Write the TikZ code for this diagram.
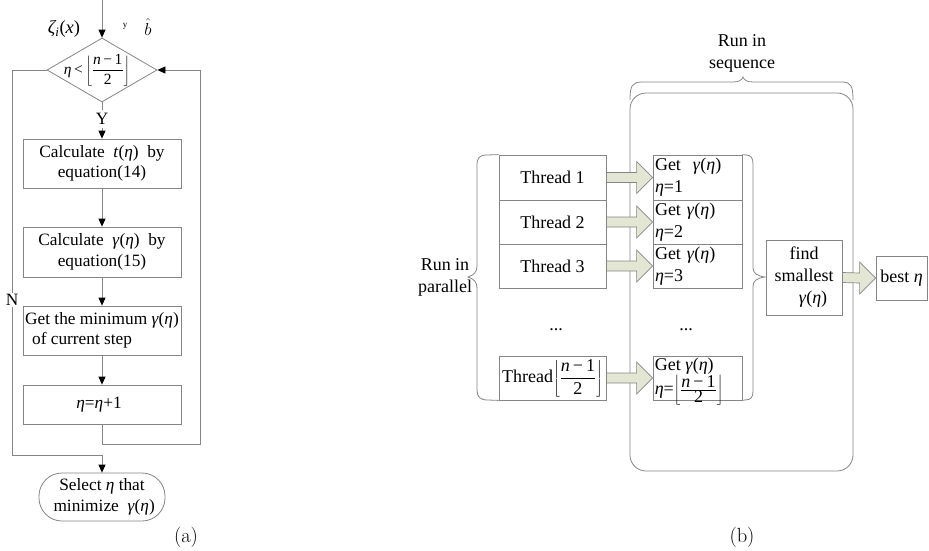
\documentclass[tikz,border=0pt]{standalone}
\usepackage{fontspec}
\newfontfamily\tnr{Liberation Serif}
\usetikzlibrary{arrows.meta,shapes.geometric,calc}
\definecolor{ln}{HTML}{858585}
\definecolor{af}{HTML}{E3E6D3}
\newcommand\ETA{\textit{η}}
\newcommand\GAM{\textit{γ}}
\newcommand\flr{$\displaystyle\left\lfloor\frac{\mbox{\textit{n}\,−\,1}}{\mbox{2}}\right\rfloor$}
\newcommand\flrs{$\left\lfloor\frac{\mbox{\textit{n}\,−\,1}}{\mbox{2}}\right\rfloor$}
% wide block arrow between two horizontally aligned nodes
\newcommand\blk[2]{\draw[bar] ($(#1.east)+(0,-5)$) -- ($(#2.west)+(-16,-5)$) -- ($(#2.west)+(-16,-16)$) -- (#2.west) -- ($(#2.west)+(-16,16)$) -- ($(#2.west)+(-16,5)$) -- ($(#1.east)+(0,5)$) -- cycle;}
\begin{document}
\begin{tikzpicture}[x=1pt,y=-1pt,
  every node/.style={font=\tnr\fontsize{17.3}{20.5}\selectfont, text=black},
  box/.style={draw=ln, line width=0.8pt, inner sep=0pt},
  ln/.style={draw=ln, line width=0.8pt},
  arr/.style={ln, -{Triangle[length=8pt,width=7pt,color=black]}},
  bar/.style={draw=ln, fill=af, line width=0.7pt},
  rtxt/.style={font=\tnr\fontsize{18}{22}\selectfont},
  captxt/.style={font=\rmfamily\fontsize{20.5}{24}\selectfont},
]
\useasboundingbox (0,0) rectangle (929,550);

% ---------------- (a) flow chart ----------------
\coordinate (top) at (102,0);
\node[box, diamond, minimum width=110pt, minimum height=64pt] (dia) at (102,70) {};
\node[font=\tnr\fontsize{15.5}{18}\selectfont] (diat) at (97,70) {\ETA\,<\,\flr};
\draw[arr] (top) -- (dia.north);
\node[font=\tnr\fontsize{18.5}{20}\selectfont] (zeta) at (64,29) {\textit{ζ}\textsubscript{\kern-1pt\textit{i}}(\textit{x})};
\node[font=\tnr\fontsize{9}{10}\selectfont] (yl) at (125,26) {y};
\node[font=\tnr\fontsize{19}{20}\selectfont] (bh) at (148,27) {$\hat{b}$};

\node (Y) at (102,119) {Y};
\node[box, minimum width=158pt, minimum height=49pt, align=center] (b1) at (102,163.5)
  {Calculate \ \textit{t}(\ETA)\ \ by\\equation(14)};
\node[box, minimum width=158pt, minimum height=50pt, align=center] (b2) at (102,252)
  {Calculate \ \GAM(\ETA)\ \ by\\equation(15)};
\node[box, minimum width=158pt, minimum height=49pt, align=left] (b3) at (102,330.5)
  {Get the minimum \GAM(\ETA)\\\hspace*{7pt}of current step};
\node[box, minimum width=158pt, minimum height=39pt] (b4) at (102,404.5) {\ETA=\ETA+1\hspace*{6pt}};
\node[box, rounded corners=23pt, minimum width=126pt, minimum height=48pt, align=center] (sel) at (102,497)
  {Select \ETA\ that\\\ minimize \ \GAM(\ETA)};

\draw[ln] (dia.south) -- (Y.north);
\draw[arr] (Y.south) -- (b1.north);
\draw[arr] (b1.south) -- (b2.north);
\draw[arr] (b2.south) -- (b3.north);
\draw[arr] (b3.south) -- (b4.north);

\coordinate (rc) at (200,444);
\draw[arr] (b4.south) |- (rc) |- (dia.east);

\node[fill=white, inner sep=1pt] (N) at (12,300) {N};
\coordinate (nc) at (12,455);
\draw[ln] (dia.west) -| (N.north);
\draw[arr] (N.south) -- (nc) -| (sel.north);

\node[captxt] (capa) at (186,537) {(a)};

% ---------------- (b) parallel search ----------------
\node[rtxt, align=center] (seq) at (742,53) {Run in\\sequence};
\draw[ln] (630,100) .. controls (630,86) and (632,82) .. (642,82) -- (733,82)
  .. controls (739,82) and (742,80) .. (743,77) .. controls (744,80) and (747,82) .. (753,82)
  -- (842,82) .. controls (851,82) and (853,86) .. (853,100);
\node[box, rounded corners=16pt, minimum width=223pt, minimum height=378pt] (seqbox) at (741.5,282) {};

\node[rtxt, align=center] (par) at (445,277) {Run in\\parallel};

\node[box, rtxt, minimum width=107pt, minimum height=45pt] (t1) at (552.5,177.5) {Thread 1};
\node[box, rtxt, minimum width=107pt, minimum height=44pt] (t2) at (552.5,222) {Thread 2};
\node[box, rtxt, minimum width=107pt, minimum height=44pt] (t3) at (552.5,266) {Thread 3};
\node[box, rtxt, minimum width=107pt, minimum height=44pt] (tn) at (552.5,378) {Thread\flr};
\node[rtxt] (d1) at (556,330) {...};

\draw[ln] (t1.north west) -- (487,155) .. controls (479,155) and (477,158) .. (477,166) -- (477,266)
  .. controls (477,272) and (474,275) .. (468,277) .. controls (474,279) and (477,282) .. (477,288)
  -- (477,390) .. controls (477,397) and (480,400) .. (488,400) -- (tn.south west);

\node[box, rtxt, text width=85pt, inner sep=2pt, minimum height=45pt, align=left] (g1) at (697.5,177.5) {Get \ \GAM(\ETA)\\\ETA=1};
\node[box, rtxt, text width=85pt, inner sep=2pt, minimum height=44pt, align=left] (g2) at (697.5,222) {Get \GAM(\ETA)\\\ETA=2};
\node[box, rtxt, text width=85pt, inner sep=2pt, minimum height=44pt, align=left] (g3) at (697.5,266) {Get \GAM(\ETA)\\\ETA=3};
\node[box, minimum width=89pt, minimum height=44pt] (gn) at (697.5,378) {};
\node[rtxt, anchor=base west, inner sep=2pt] (gnt) at ($(gn.north west)+(0,15)$) {Get \GAM(\ETA)};
\node[rtxt, anchor=base west, inner sep=2pt] (gnv) at ($(gn.north west)+(0,39)$) {\ETA=\flrs};
\node[rtxt] (d2) at (686,330) {...};

\draw[ln] (g1.north east) -- (746,155) .. controls (751,155) and (753,158) .. (753,164) -- (753,268)
  .. controls (753,273) and (757,276) .. (765,277) .. controls (757,278) and (753,281) .. (753,286)
  -- (753,391) .. controls (753,397) and (751,400) .. (745,400) -- (gn.south east);

\node[box, rtxt, minimum width=76pt, minimum height=75pt, align=center] (fs) at (804,277.5)
  {find\\smallest\\\hspace*{18pt}\GAM(\ETA)};
\node[box, rtxt, minimum width=51pt, minimum height=44pt] (best) at (901.5,278) {best \ETA};

\blk{t1}{g1}
\blk{t2}{g2}
\blk{t3}{g3}
\blk{tn}{gn}
\blk{fs}{best}

\node[captxt] (capb) at (742,537) {(b)};
\end{tikzpicture}
\end{document}
